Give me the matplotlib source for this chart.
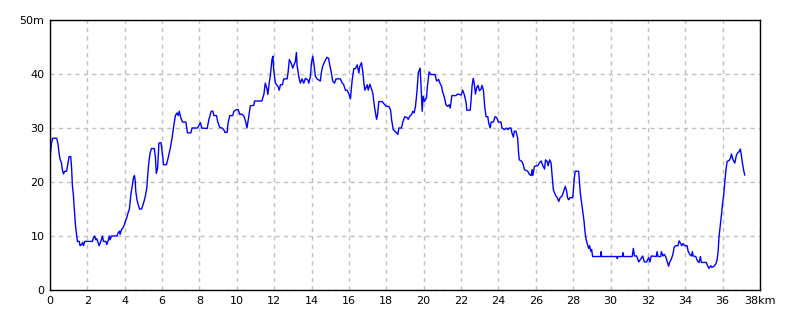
import matplotlib
matplotlib.use("Agg")
import matplotlib.pyplot as plt

# elevation profile: distance (km) and height (m)
dist_km = [
    0.00, 0.07, 0.14, 0.36, 0.43, 0.48, 0.54, 0.61, 0.66, 0.72, 0.79, 0.89, 0.97, 1.02, 1.11,
    1.16, 1.20, 1.25, 1.29, 1.36, 1.43, 1.47, 1.56, 1.61, 1.68, 1.75, 1.79, 1.86, 2.27, 2.32,
    2.39, 2.45, 2.50, 2.57, 2.63, 2.72, 2.81, 2.86, 2.99, 3.04, 3.12, 3.17, 3.22, 3.29, 3.58,
    3.65, 3.72, 3.75, 3.83, 3.90, 3.97, 4.04, 4.11, 4.18, 4.25, 4.33, 4.40, 4.47, 4.52, 4.56,
    4.59, 4.65, 4.72, 4.79, 4.90, 4.97, 5.04, 5.11, 5.18, 5.24, 5.29, 5.36, 5.43, 5.58, 5.64,
    5.69, 5.76, 5.83, 5.94, 6.00, 6.08, 6.23, 6.32, 6.44, 6.53, 6.62, 6.71, 6.80, 6.86, 6.92,
    7.00, 7.09, 7.27, 7.36, 7.54, 7.60, 7.90, 7.96, 8.05, 8.12, 8.41, 8.50, 8.63, 8.72, 8.77,
    8.91, 8.98, 9.09, 9.21, 9.30, 9.36, 9.48, 9.53, 9.62, 9.78, 9.84, 9.98, 10.07, 10.16, 10.25,
    10.38, 10.47, 10.54, 10.62, 10.72, 10.91, 10.95, 11.34, 11.45, 11.52, 11.61, 11.66, 11.73, 11.79, 11.88,
    11.93, 11.97, 12.06, 12.20, 12.27, 12.33, 12.44, 12.51, 12.69, 12.74, 12.81, 12.92, 12.99, 13.06, 13.13,
    13.19, 13.22, 13.31, 13.40, 13.49, 13.58, 13.67, 13.80, 13.85, 13.94, 13.99, 14.06, 14.13, 14.20, 14.29,
    14.47, 14.52, 14.59, 14.70, 14.82, 14.91, 14.97, 15.06, 15.13, 15.23, 15.31, 15.54, 15.63, 15.72, 15.81,
    15.90, 15.99, 16.08, 16.17, 16.26, 16.35, 16.44, 16.53, 16.58, 16.67, 16.75, 16.80, 16.85, 16.98, 17.03,
    17.12, 17.21, 17.28, 17.33, 17.39, 17.48, 17.53, 17.60, 17.78, 17.87, 18.00, 18.14, 18.23, 18.28, 18.37,
    18.46, 18.55, 18.62, 18.67, 18.81, 18.90, 18.99, 19.12, 19.17, 19.26, 19.35, 19.42, 19.49, 19.56, 19.64,
    19.71, 19.81, 19.86, 19.92, 19.97, 20.04, 20.15, 20.20, 20.29, 20.38, 20.61, 20.69, 20.80, 20.87, 20.96,
    21.01, 21.10, 21.19, 21.28, 21.37, 21.42, 21.51, 21.73, 21.82, 22.00, 22.09, 22.18, 22.27, 22.31, 22.49,
    22.54, 22.59, 22.65, 22.70, 22.77, 22.84, 22.91, 22.98, 23.07, 23.12, 23.20, 23.27, 23.34, 23.43, 23.48,
    23.56, 23.61, 23.73, 23.82, 23.91, 24.00, 24.14, 24.19, 24.32, 24.44, 24.51, 24.58, 24.67, 24.73, 24.80,
    24.85, 24.94, 25.03, 25.08, 25.12, 25.26, 25.33, 25.39, 25.57, 25.66, 25.75, 25.80, 25.84, 25.93, 26.02,
    26.11, 26.20, 26.29, 26.38, 26.47, 26.52, 26.61, 26.66, 26.74, 26.82, 26.87, 26.94, 27.00, 27.08, 27.15,
    27.23, 27.30, 27.40, 27.47, 27.52, 27.58, 27.65, 27.70, 27.76, 27.83, 27.97, 28.00, 28.06, 28.11, 28.29,
    28.33, 28.38, 28.44, 28.51, 28.58, 28.63, 28.69, 28.76, 28.83, 28.88, 28.94, 28.99, 29.04, 29.48, 29.50,
    29.52, 30.34, 30.36, 30.40, 30.64, 30.66, 30.68, 31.16, 31.22, 31.28, 31.40, 31.51, 31.63, 31.72, 31.81,
    31.93, 32.04, 32.11, 32.18, 32.45, 32.49, 32.54, 32.69, 32.72, 32.81, 32.88, 32.95, 33.02, 33.11, 33.16,
    33.25, 33.34, 33.40, 33.49, 33.61, 33.67, 33.74, 33.81, 33.88, 33.97, 34.10, 34.15, 34.24, 34.33, 34.38,
    34.42, 34.56, 34.65, 34.74, 34.81, 34.86, 35.13, 35.18, 35.27, 35.36, 35.43, 35.54, 35.63, 35.70, 35.76,
    35.81, 35.88, 35.94, 35.99, 36.06, 36.11, 36.17, 36.24, 36.35, 36.42, 36.47, 36.56, 36.65, 36.74, 36.83,
    36.88, 36.95, 37.00, 37.06, 37.13, 37.18,
]
elev_m = [
    24.3, 27.0, 28.1, 28.1, 27.0, 25.4, 24.2, 23.6, 22.3, 21.5, 22.0, 22.0, 23.6, 24.7, 24.7,
    22.3, 19.2, 17.7, 15.5, 12.1, 10.0, 9.0, 9.0, 8.2, 8.4, 8.8, 8.2, 9.0, 9.0, 9.6,
    10.0, 9.3, 9.5, 8.8, 8.2, 9.0, 10.0, 9.0, 9.0, 8.4, 9.2, 10.0, 9.3, 10.0, 10.0,
    10.6, 10.9, 10.3, 11.2, 11.5, 12.0, 12.8, 13.4, 14.3, 15.0, 17.7, 19.2, 20.8, 21.2, 20.2,
    18.3, 16.8, 15.8, 15.0, 15.0, 15.7, 16.5, 17.5, 18.9, 21.7, 23.6, 25.4, 26.2, 26.2, 24.7,
    21.6, 22.6, 27.2, 27.3, 25.7, 23.2, 23.2, 24.4, 26.3, 28.1, 30.3, 32.3, 32.8, 32.3, 33.1,
    31.9, 31.1, 31.1, 29.1, 29.1, 30.0, 30.0, 30.4, 31.0, 30.0, 29.9, 31.5, 33.1, 33.1, 32.3,
    32.3, 31.1, 30.1, 30.0, 29.7, 29.2, 29.2, 30.9, 32.3, 32.3, 33.1, 33.4, 33.4, 32.5, 32.6,
    32.2, 31.2, 30.0, 31.7, 34.1, 34.2, 35.0, 35.0, 36.3, 38.3, 37.3, 36.2, 38.3, 39.6, 42.7,
    43.3, 40.8, 38.3, 37.7, 37.0, 38.0, 38.0, 39.1, 39.1, 40.2, 42.7, 41.9, 41.1, 41.7, 42.3,
    44.0, 41.7, 39.6, 38.3, 39.1, 38.3, 39.2, 38.9, 38.3, 39.6, 42.0, 43.3, 41.7, 39.6, 39.1,
    38.7, 40.2, 41.4, 42.3, 43.1, 42.9, 41.7, 40.2, 38.7, 38.3, 39.1, 39.1, 38.4, 38.0, 37.0,
    37.0, 36.4, 35.4, 38.8, 41.0, 41.0, 41.7, 40.2, 41.4, 42.1, 40.2, 38.3, 37.0, 38.0, 37.0,
    38.1, 37.2, 36.4, 34.9, 33.4, 31.6, 32.5, 34.9, 34.9, 34.5, 34.0, 34.0, 33.3, 31.6, 29.7,
    29.4, 29.1, 28.8, 30.0, 30.0, 31.3, 32.1, 31.9, 31.6, 32.2, 32.5, 33.1, 32.8, 34.0, 36.7,
    40.2, 41.1, 37.7, 33.1, 35.9, 34.9, 35.6, 37.7, 40.4, 39.9, 39.9, 38.7, 39.0, 38.3, 37.7,
    36.7, 35.8, 34.3, 34.0, 34.3, 33.7, 36.0, 36.0, 36.3, 36.1, 37.0, 36.1, 34.7, 33.3, 33.3,
    35.3, 37.8, 39.2, 38.4, 36.3, 37.5, 37.9, 36.9, 37.2, 37.9, 36.9, 33.8, 32.1, 32.1, 30.9,
    30.0, 31.1, 31.1, 32.1, 31.9, 31.1, 31.1, 30.0, 29.7, 30.0, 29.7, 30.0, 30.0, 29.0, 28.3,
    29.4, 29.4, 28.1, 25.3, 24.1, 23.8, 23.2, 22.3, 22.0, 21.4, 21.2, 22.3, 21.2, 22.9, 23.0,
    23.0, 23.6, 23.9, 23.0, 22.4, 24.1, 23.8, 23.0, 24.1, 23.5, 21.3, 18.6, 18.0, 17.4, 17.1,
    16.4, 17.1, 17.4, 18.0, 18.6, 19.2, 18.3, 17.1, 16.7, 17.1, 17.1, 18.0, 20.7, 22.0, 22.0,
    20.4, 18.0, 16.4, 14.6, 12.8, 10.9, 9.4, 8.5, 7.7, 8.2, 7.2, 7.5, 6.2, 6.2, 7.1,
    6.2, 6.2, 5.8, 6.2, 6.2, 6.9, 6.2, 6.2, 7.7, 6.3, 6.3, 5.2, 5.8, 6.3, 5.2,
    5.2, 6.0, 5.2, 6.3, 6.2, 7.1, 6.2, 6.2, 7.1, 6.3, 6.6, 6.2, 5.4, 4.4, 5.1,
    5.7, 6.6, 7.9, 8.2, 8.2, 9.1, 8.7, 8.2, 8.6, 8.2, 8.2, 7.2, 6.6, 6.3, 7.1,
    6.3, 6.2, 5.4, 5.1, 6.2, 5.1, 5.1, 4.6, 4.0, 4.5, 4.2, 4.4, 4.8, 5.5, 7.2,
    10.0, 12.1, 14.0, 15.8, 17.7, 19.8, 22.0, 23.8, 24.0, 24.4, 25.2, 24.1, 23.5, 25.0, 25.5,
    25.6, 26.1, 25.0, 23.5, 22.1, 21.3,
]

x_ticks = list(range(0, 39, 2))
x_labels = [str(v) for v in x_ticks[:-1]] + ["38km"]
y_ticks = [0, 10, 20, 30, 40, 50]
y_labels = ["0", "10", "20", "30", "40", "50m"]

fig = plt.figure(figsize=(8, 3.2), dpi=100)
ax = fig.add_axes([0.0625, 0.09375, 0.8875, 0.84375])

ax.plot(dist_km, elev_m, color="#0000ff", linewidth=1.0)

ax.set_xlim(0, 38)
ax.set_ylim(0, 50)
ax.set_xticks(x_ticks)
ax.set_xticklabels(x_labels)
ax.set_yticks(y_ticks)
ax.set_yticklabels(y_labels)
ax.tick_params(length=0, labelsize=8, pad=4)

ax.grid(True, color="#c0c0c0", linestyle=(0, (3, 3)), linewidth=1.0)
for s in ax.spines.values():
    s.set_linewidth(1.0)
    s.set_color("black")

fig.savefig("out.png", dpi=100)
